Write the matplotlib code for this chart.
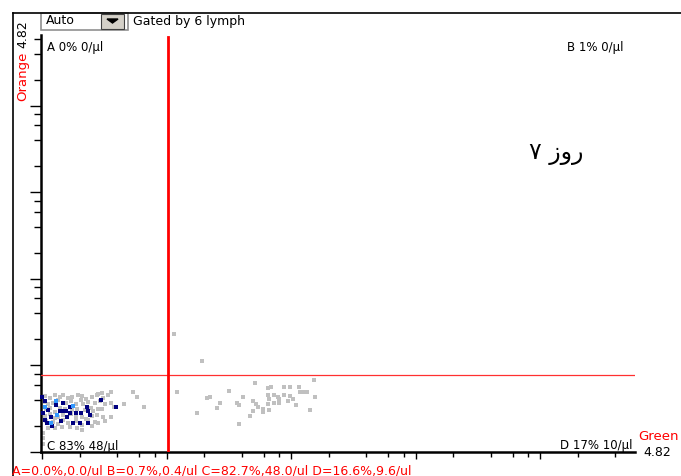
import numpy as np
import matplotlib
matplotlib.use("Agg")
import matplotlib.pyplot as plt
from matplotlib.lines import Line2D
from matplotlib.patches import Rectangle, Polygon
from matplotlib.ticker import LogLocator, NullFormatter

plt.rcParams['font.family'] = ['DejaVu Sans']

W, H = 681, 476

# axis ranges (decades) and quadrant gates
green_range_log = (-0.01, 4.76)
orange_range_log = (0.0, 4.82)
gate_green = 10.2
gate_orange = 7.8

# grey events, log10 intensity (Green, Orange)
grey_green_log = [
    0.02, 0.06, 0.10, 0.14, 0.17, 0.21, 0.24, 0.29, 0.32, 0.35, 0.40, 0.44, 0.48, 0.53,
    0.02, 0.05, 0.09, 0.13, 0.19, 0.23, 0.27, 0.31, 0.33, 0.37, 0.42, 0.46, 0.50, 0.55,
    0.03, 0.06, 0.10, 0.14, 0.18, 0.24, 0.28, 0.34, 0.39, 0.41, 0.45, 0.48,
    0.02, 0.06, 0.10, 0.13, 0.17, 0.23, 0.27, 0.32, 0.35, 0.40, 0.44, 0.49, 0.55,
    0.03, 0.09, 0.13, 0.17, 0.21, 0.27, 0.32, 0.37, 0.42, 0.45, 0.50,
    0.05, 0.10, 0.16, 0.22, 0.28, 0.32, 0.40,
    0.01, 0.01, 0.01,
    0.45, 0.49, 0.55, 0.58, 0.66, 0.73, 0.76, 0.82,
    1.06, 1.28, 1.08, 1.24, 1.32, 1.35, 1.40, 1.43, 1.50, 1.56,
    1.58, 1.58, 1.61, 1.67, 1.69, 1.69, 1.71, 1.72, 1.73, 1.77,
    1.77, 1.81, 1.84, 1.81, 1.82, 1.81, 1.82, 1.86, 1.89, 1.86,
    1.90, 1.90, 1.94, 1.94, 1.99, 1.99, 2.01, 1.97, 2.04, 2.06,
    2.07, 2.10, 2.13, 2.18, 2.19, 2.15,
]
grey_orange_log = [
    0.65, 0.62, 0.66, 0.64, 0.66, 0.62, 0.64, 0.66, 0.65, 0.61, 0.64, 0.66, 0.68, 0.66,
    0.58, 0.55, 0.57, 0.60, 0.57, 0.59, 0.55, 0.60, 0.55, 0.58, 0.57, 0.59, 0.55, 0.57,
    0.50, 0.51, 0.46, 0.51, 0.50, 0.49, 0.50, 0.49, 0.51, 0.47, 0.50, 0.50,
    0.42, 0.44, 0.39, 0.40, 0.43, 0.44, 0.40, 0.40, 0.38, 0.42, 0.43, 0.40, 0.40,
    0.36, 0.35, 0.32, 0.37, 0.34, 0.36, 0.31, 0.37, 0.35, 0.34, 0.36,
    0.28, 0.28, 0.29, 0.29, 0.28, 0.25, 0.30,
    0.22, 0.16, 0.09,
    0.67, 0.62, 0.69, 0.52, 0.55, 0.69, 0.64, 0.52,
    1.36, 1.05, 0.69, 0.45, 0.62, 0.64, 0.51, 0.57, 0.71, 0.57,
    0.54, 0.32, 0.64, 0.42, 0.47, 0.59, 0.80, 0.55, 0.52, 0.50,
    0.46, 0.74, 0.75, 0.66, 0.61, 0.55, 0.49, 0.66, 0.64, 0.57,
    0.57, 0.61, 0.75, 0.66, 0.75, 0.65, 0.61, 0.59, 0.54, 0.75,
    0.69, 0.69, 0.69, 0.83, 0.64, 0.49,
]

# gated (lymph) events
navy_green_log = [0.02, 0.17, 0.11, 0.22, 0.01, 0.14, 0.16, 0.19, 0.22, 0.27,
                  0.31, 0.36, 0.37, 0.38, 0.20, 0.07, 0.08, 0.15, 0.25, 0.30,
                  0.37, 0.47, 0.59, 0.04, 0.02, 0.05, 0.00]
navy_orange_log = [0.59, 0.57, 0.54, 0.52, 0.45, 0.47, 0.47, 0.47, 0.45, 0.45,
                   0.45, 0.52, 0.47, 0.43, 0.40, 0.40, 0.30, 0.36, 0.34, 0.34,
                   0.34, 0.60, 0.52, 0.34, 0.37, 0.49, 0.64]
blue_green_log = [0.11, 0.25, 0.12, 0.07, 0.02]
blue_orange_log = [0.59, 0.53, 0.43, 0.34, 0.52]

quadrant_labels = ["A 0% 0/µl", "B 1% 0/µl", "C 83% 48/µl", "D 17% 10/µl"]
stats_line = "A=0.0%,0.0/ul B=0.7%,0.4/ul C=82.7%,48.0/ul D=16.6%,9.6/ul"
gate_name = "Gated by 6 lymph"
scale_mode = "Auto"
axis_max = "4.82"
day_label = "روز ۷"


def fx(px):
    return px / W


def fy(py):
    return 1 - py / H


fig = plt.figure(figsize=(W / 100, H / 100), dpi=100)
ax = fig.add_axes([fx(41), fy(452), 594 / W, 417 / H])
ax.set_xscale('log')
ax.set_yscale('log')
ax.set_xlim(10 ** green_range_log[0], 10 ** green_range_log[1])
ax.set_ylim(10 ** orange_range_log[0], 10 ** orange_range_log[1])

ax.scatter(10 ** np.array(grey_green_log), 10 ** np.array(grey_orange_log),
           s=6, marker='s', color='#c0c0c0', linewidths=0, clip_on=False, zorder=2)
ax.scatter(10 ** np.array(navy_green_log), 10 ** np.array(navy_orange_log),
           s=7, marker='s', color='#000080', linewidths=0, clip_on=False, zorder=3)
ax.scatter(10 ** np.array(blue_green_log), 10 ** np.array(blue_orange_log),
           s=7, marker='s', color='#3399ff', linewidths=0, clip_on=False, zorder=3)

# quadrant lines
ax.axhline(gate_orange, color='#ff3030', lw=0.9, zorder=4)
ax.axvline(gate_green, ymin=0, ymax=(452 - 37) / 417, color='#ff0000', lw=2.0, zorder=5)

for side in ('top', 'right'):
    ax.spines[side].set_visible(False)
for side in ('left', 'bottom'):
    ax.spines[side].set_linewidth(1.8)
    ax.spines[side].set_color('black')

for axis in (ax.xaxis, ax.yaxis):
    axis.set_major_locator(LogLocator(base=10, numticks=10))
    axis.set_minor_locator(LogLocator(base=10, subs=(2, 4, 6, 8), numticks=20))
    axis.set_major_formatter(NullFormatter())
    axis.set_minor_formatter(NullFormatter())
ax.tick_params(axis='y', which='major', direction='out', length=8, width=1, color='black')
ax.tick_params(axis='y', which='minor', direction='out', length=5, width=1, color='black')
ax.tick_params(axis='x', which='major', direction='out', length=5, width=1, color='black')
ax.tick_params(axis='x', which='minor', direction='out', length=3.5, width=1, color='black')

# quadrant labels
tk = dict(fontsize=8.5, color='black')
fig.text(fx(47), fy(51), quadrant_labels[0], va='baseline', ha='left', **tk)
fig.text(fx(567), fy(51), quadrant_labels[1], va='baseline', ha='left', **tk)
fig.text(fx(47), fy(450), quadrant_labels[2], va='baseline', ha='left', **tk)
fig.text(fx(632), fy(449), quadrant_labels[3], va='baseline', ha='right', **tk)

# outer frame
fig.add_artist(Line2D([fx(13), fx(13)], [fy(13), fy(476)], transform=fig.transFigure,
                      color='black', lw=1.2))
fig.add_artist(Line2D([fx(13), fx(681)], [fy(13), fy(13)], transform=fig.transFigure,
                      color='black', lw=1.2))

# combo box
fig.add_artist(Rectangle((fx(41), fy(30)), 87 / W, 17 / H, transform=fig.transFigure,
                         facecolor='white', edgecolor='#909090', lw=1.2))
fig.add_artist(Rectangle((fx(101), fy(29)), 23 / W, 15 / H, transform=fig.transFigure,
                         facecolor='#d4d0c8', edgecolor='#404040', lw=0.8))
fig.add_artist(Polygon([(fx(107), fy(19)), (fx(118), fy(19)), (fx(112.5), fy(23))],
                       closed=True, transform=fig.transFigure, facecolor='black',
                       edgecolor='black'))
fig.text(fx(46), fy(24), scale_mode, fontsize=9, va='baseline', ha='left')
fig.text(fx(133), fy(25), gate_name, fontsize=9, va='baseline', ha='left')

# axis names
fig.text(fx(22.5), fy(76), "Orange", rotation=90, color='red', fontsize=9.5,
         ha='center', va='center')
fig.text(fx(22.5), fy(34), axis_max, rotation=90, color='black', fontsize=9,
         ha='center', va='center')
fig.text(fx(638), fy(440), "Green", color='red', fontsize=9.5, ha='left', va='baseline')
fig.text(fx(643), fy(456), axis_max, color='black', fontsize=9, ha='left', va='baseline')

# summary line
fig.text(fx(12), fy(474), stats_line, color='red', fontsize=9, ha='left', va='baseline')

# day label (reversed for left-to-right rendering)
fig.text(fx(556), fy(153), day_label[::-1], fontsize=17, ha='center', va='center')

fig.savefig("out.png", dpi=100)
